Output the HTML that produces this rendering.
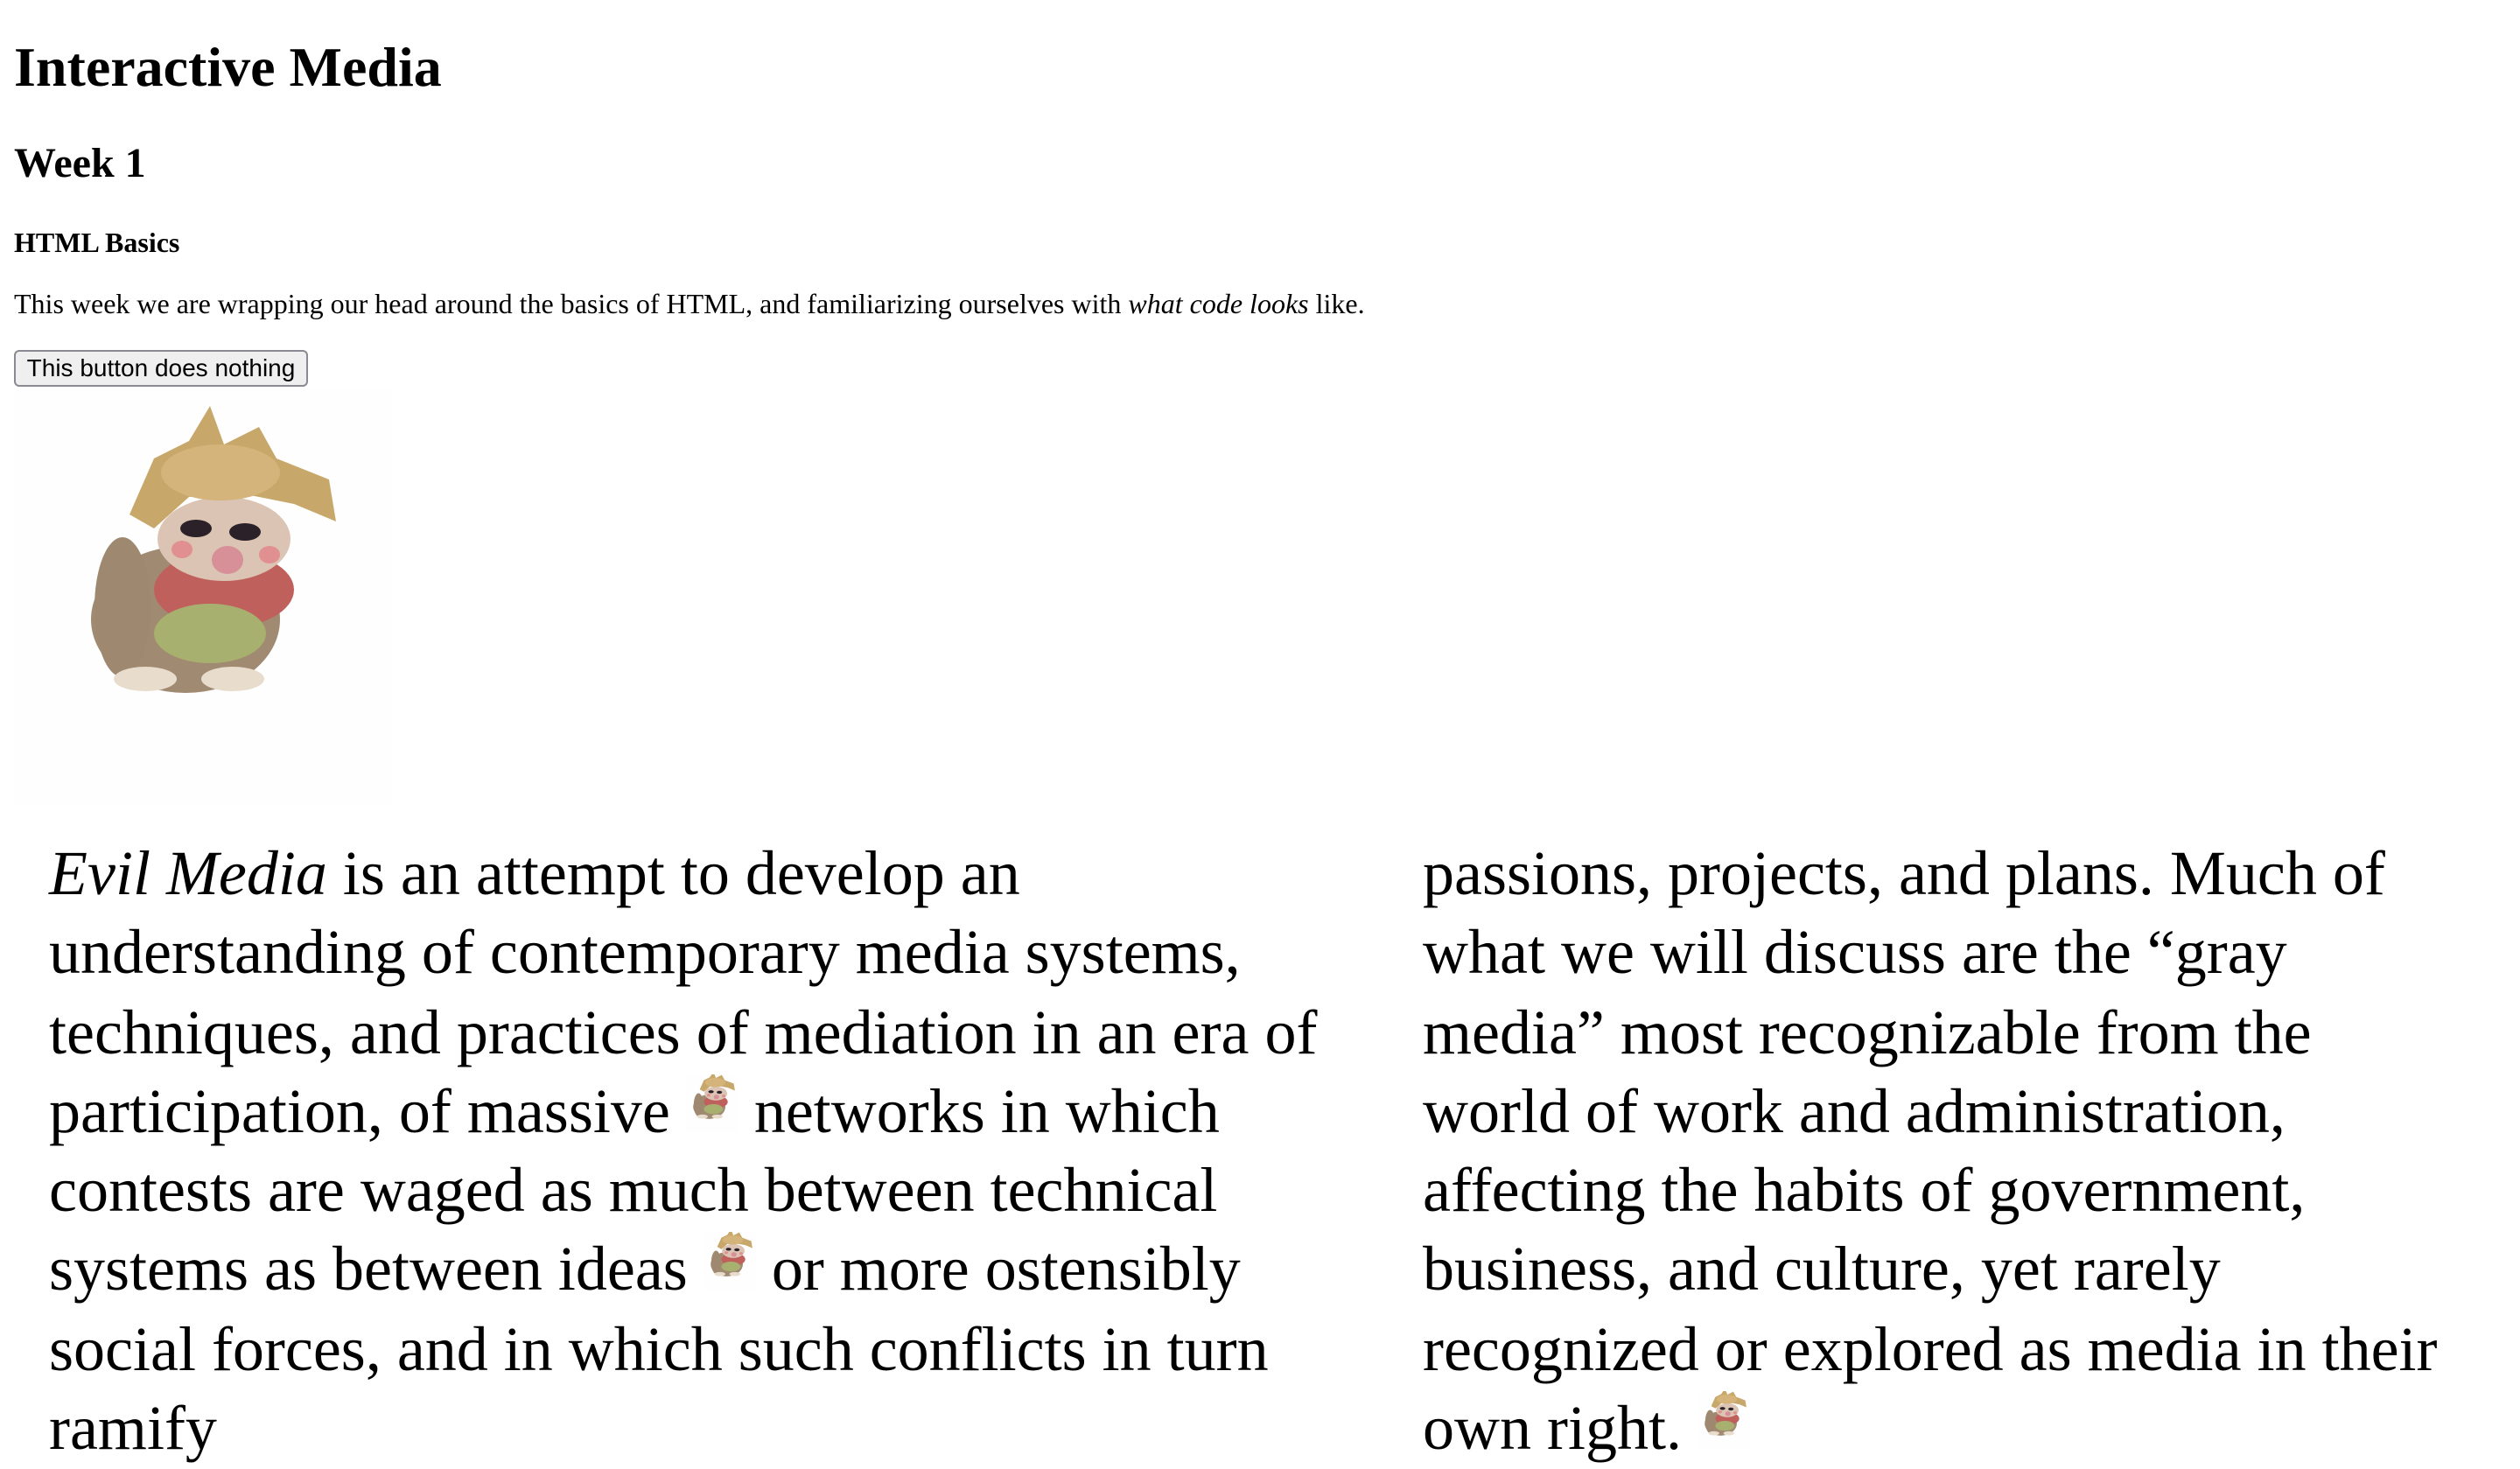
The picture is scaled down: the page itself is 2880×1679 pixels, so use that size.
<!DOCTYPE html>
<html><head><meta charset="utf-8"><style>
html,body{margin:0;padding:0;background:#fff;width:2880px;height:1630px;overflow:hidden}
#w{position:absolute;left:0;top:0;width:1440px;height:815px;transform:scale(2);transform-origin:0 0;font-family:"Liberation Serif",serif;color:#000}
.a{position:absolute;white-space:nowrap;margin:0;font-family:"Liberation Serif",serif}
h1.a{font-size:32px;font-weight:bold;left:8px;top:20px;line-height:37px}
h2.a{font-size:24px;font-weight:bold;left:8px;top:80px;line-height:28px}
h4.a{font-size:16px;font-weight:bold;left:8px;top:131px;line-height:18px}
p.s{font-size:16px;left:8px;top:166px;line-height:18px}
.btn{position:absolute;left:8px;top:200px;width:168px;height:21px;box-sizing:border-box;border:1px solid #8a8a92;border-radius:3px;background:#efeff0;font-family:"Liberation Sans",sans-serif;font-size:14px;line-height:19px;text-align:center;color:#000}
.col{position:absolute;top:477px;font-family:"Liberation Serif",serif;font-size:36px;line-height:45.3px;white-space:nowrap}
.ic{display:inline-block;width:30px;height:33px;vertical-align:baseline}
</style></head><body><div id="w">
<svg width="0" height="0" style="position:absolute"><defs>
<g id="troll">
<rect width="216" height="238" fill="#fefefe"/>
<ellipse cx="98" cy="132" rx="54" ry="42" fill="#a08a72"/>
<ellipse cx="62" cy="125" rx="16" ry="40" fill="#9e8870"/>
<ellipse cx="120" cy="115" rx="40" ry="22" fill="#c0605c"/>
<ellipse cx="112" cy="140" rx="32" ry="17" fill="#a8b070"/>
<ellipse cx="75" cy="166" rx="18" ry="7" fill="#e8dccc"/>
<ellipse cx="125" cy="166" rx="18" ry="7" fill="#e8dccc"/>
<ellipse cx="120" cy="86" rx="38" ry="24" fill="#dcc4b4"/>
<path d="M66 72 L80 40 L100 30 L112 10 L120 32 L140 22 L150 40 L180 52 L184 76 L160 66 L130 60 L100 62 L80 80 Z" fill="#c8a86a"/>
<ellipse cx="118" cy="48" rx="34" ry="16" fill="#d4b47a"/>
<ellipse cx="104" cy="80" rx="9" ry="5" fill="#2a2228"/>
<ellipse cx="132" cy="82" rx="9" ry="5" fill="#2a2228"/>
<ellipse cx="122" cy="98" rx="9" ry="8" fill="#d89098"/>
<ellipse cx="96" cy="92" rx="6" ry="5" fill="#e09090"/>
<ellipse cx="146" cy="95" rx="6" ry="5" fill="#e09090"/>
</g></defs></svg>
<h1 class="a">Interactive Media</h1>
<h2 class="a">Week 1</h2>
<h4 class="a">HTML Basics</h4>
<p class="a s">This week we are wrapping our head around the basics of HTML, and familiarizing ourselves with <i>what code looks</i> like.</p>
<div class="btn">This button does nothing</div>
<svg style="position:absolute;left:8px;top:222px" width="216" height="238" viewBox="0 0 216 238"><use href="#troll"/></svg>
<div class="col" style="left:28px"><i>Evil Media</i> is an attempt to develop an<br>understanding of contemporary media systems,<br>techniques, and practices of mediation in an era of<br>participation, of massive <svg class="ic" viewBox="20 20 176 200" preserveAspectRatio="none"><use href="#troll"/></svg> networks in which<br>contests are waged as much between technical<br>systems as between ideas <svg class="ic" viewBox="20 20 176 200" preserveAspectRatio="none"><use href="#troll"/></svg> or more ostensibly<br>social forces, and in which such conflicts in turn<br>ramify</div>
<div class="col" style="left:813px">passions, projects, and plans. Much of<br>what we will discuss are the “gray<br>media” most recognizable from the<br>world of work and administration,<br>affecting the habits of government,<br>business, and culture, yet rarely<br>recognized or explored as media in their<br>own right. <svg class="ic" viewBox="20 20 176 200" preserveAspectRatio="none"><use href="#troll"/></svg></div>
</div></body></html>
